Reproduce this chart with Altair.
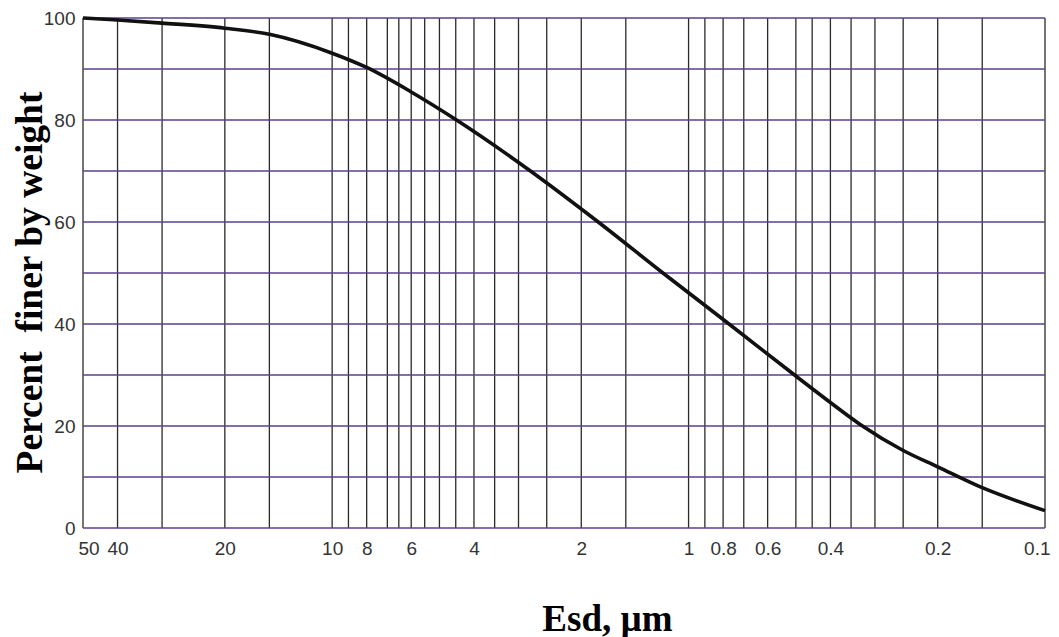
import altair as alt
import pandas as pd

# Curve: equivalent spherical diameter (um) vs percent finer by weight
esd = [50, 40, 30, 20, 15, 10, 8, 6, 4.5, 2.79, 1.8, 1.185, 0.77, 0.5, 0.4,
       0.33, 0.25, 0.2, 0.15, 0.1]
pct = [100, 99.6, 99.0, 98.0, 96.8, 93.1, 90.3, 85.5, 80.1, 70.1, 60.1, 50.1, 40.0,
       29.8, 24.6, 20.3, 15.2, 12.0, 7.9, 3.4]

# Grid positions
grid_x = [50, 40, 30, 20, 15, 10, 9, 8, 7, 6.5, 6, 5.5, 5, 4.5, 4, 3.5, 3, 2.5, 2,
          1.5, 1, 0.9, 0.8, 0.7, 0.6, 0.5, 0.45, 0.4, 0.35, 0.3, 0.25, 0.2, 0.15, 0.1]
grid_y = [0, 10, 20, 30, 40, 50, 60, 70, 80, 90, 100]

# Tick labels
x_ticks = [50, 40, 20, 10, 8, 6, 4, 2, 1, 0.8, 0.6, 0.4, 0.2, 0.1]
y_ticks = [0, 20, 40, 60, 80, 100]

curve_df = pd.DataFrame({"esd": esd, "pct": pct})
gx_df = pd.DataFrame({"esd": grid_x})
gy_df = pd.DataFrame({"pct": grid_y})

xscale = alt.Scale(type="log", domain=[0.1, 50], reverse=True, nice=False)
yscale = alt.Scale(domain=[0, 100], nice=False)

label_font = "Liberation Sans"
title_font = "Liberation Serif"

x_axis = alt.Axis(
    values=x_ticks, format="~g", grid=False, domain=False, ticks=False,
    labelFont=label_font, labelFontSize=19, labelColor="#333333",
    labelPadding=11, labelFlush=True, labelFlushOffset=5, labelOverlap=False,
    title="Esd, µm", titleFont=title_font, titleFontSize=37, titleFontWeight="bold",
    titleColor="#000000", titleX=524, titleY=102, titleBaseline="alphabetic",
    titleAlign="center",
)
y_axis = alt.Axis(
    values=y_ticks, grid=False, domain=False, ticks=False,
    labelFont=label_font, labelFontSize=19, labelColor="#333333",
    labelPadding=8, labelFlush=False,
    title="Percent\u00a0 finer by weight", titleFont=title_font, titleFontSize=37.5,
    titleFontWeight="bold", titleColor="#000000", titleAngle=-90,
    titleX=-42, titleY=264, titleBaseline="alphabetic", titleAlign="center",
)

vgrid = alt.Chart(gx_df).mark_rule(color="#2a2a2a", strokeWidth=1.3).encode(
    x=alt.X("esd:Q", scale=xscale, axis=x_axis)
)
hgrid = alt.Chart(gy_df).mark_rule(color="#5a3f8f", strokeWidth=1.6).encode(
    y=alt.Y("pct:Q", scale=yscale, axis=y_axis)
)
curve = alt.Chart(curve_df).mark_line(
    color="#111111", strokeWidth=3.6, interpolate="monotone"
).encode(
    x=alt.X("esd:Q", scale=xscale),
    y=alt.Y("pct:Q", scale=yscale),
)

chart = alt.layer(vgrid, hgrid, curve).properties(
    width=962, height=510,
    autosize=alt.AutoSizeParams(type="none"),
    padding={"left": 75, "top": 10, "right": 6, "bottom": 112},
    background="white",
).configure_view(stroke=None)

chart.save("out.html", embed_options={"renderer": "svg", "actions": False})
